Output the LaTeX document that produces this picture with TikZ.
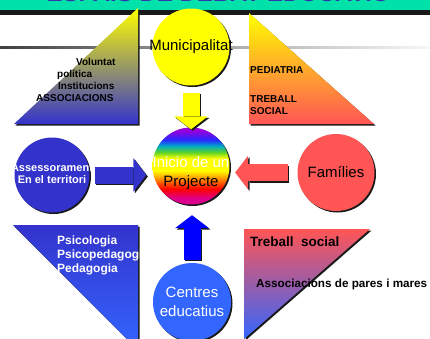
\documentclass[tikz,border=0pt]{standalone}
\usepackage{fontspec}
\setmainfont{Liberation Sans}
\usetikzlibrary{arrows.meta,shadows}
\definecolor{pjgreen}{RGB}{0,226,170}
\definecolor{pjbar}{RGB}{25,25,25}
\definecolor{pjtitle}{RGB}{51,51,170}
\definecolor{pjyellow}{RGB}{255,255,0}
\definecolor{pjblue}{RGB}{51,51,204}
\definecolor{pjred}{RGB}{255,85,85}
\definecolor{pjlightblue}{RGB}{51,102,255}
\definecolor{pjpureblue}{RGB}{0,0,255}
\definecolor{pjmag}{RGB}{220,0,140}
\definecolor{pjorange}{RGB}{255,128,0}
\definecolor{pjgreen2}{RGB}{90,210,40}
\definecolor{pjteal}{RGB}{0,170,200}
\definecolor{pjblue2}{RGB}{40,40,255}
\definecolor{pjpurple}{RGB}{150,0,220}
\pgfdeclareverticalshading{pjrainbow}{100bp}{color(0bp)=(pjmag); color(29bp)=(pjmag); color(35bp)=(red); color(41bp)=(pjorange); color(47bp)=(pjyellow); color(55bp)=(pjyellow); color(59bp)=(pjgreen2); color(63bp)=(pjteal); color(67bp)=(pjblue2); color(73bp)=(pjpurple); color(100bp)=(pjpurple)}
\tikzstyle{disc} = [circle, minimum size=77pt, inner sep=0pt, drop shadow={shadow xshift=1.5pt, shadow yshift=-1.5pt, fill=pjbar, opacity=1}]
\tikzstyle{disclabel} = [align=center, inner sep=0pt, font=\fontsize{15}{19}\selectfont]
\tikzstyle{triangle} = [drop shadow={shadow xshift=1.5pt, shadow yshift=-1.5pt, fill=pjbar, opacity=1}]
\tikzstyle{tritext} = [anchor=base west, inner sep=0pt, font=\bfseries\fontsize{10}{12}\selectfont]
\tikzstyle{blockarrow} = [line width=17pt, -{Triangle[width=34pt,length=13pt,line width=0pt]}]
\tikzstyle{arrowshadow} = [draw=pjbar, transform canvas={xshift=1.5pt,yshift=-1.5pt}]

\begin{document}
\begin{tikzpicture}[x=1pt, y=-1pt]
\useasboundingbox (0,0) rectangle (430,338);
% Title band
\fill[pjgreen] (0,0) rectangle (430,9.5);
\fill[pjbar] (0,9.5) rectangle (430,14.5);
\begin{scope}
\clip (0,0) rectangle (430,9.5);
\node (title) [anchor=base, inner sep=0pt, text=pjtitle, font=\bfseries\fontsize{24}{28}\selectfont] at (218,1.5) {ESPAIS DE DEBAT EDUCATIU};
\end{scope}
\shade[left color=black!75, right color=black!3, middle color=black!35] (0,46.5) rectangle (430,48.5);

% Triangles
\shade[triangle, top color=pjyellow, bottom color=pjblue] (138,8) -- (14,124) -- (138,124) -- cycle;
\shade[triangle, top color=pjyellow, bottom color=pjred] (249,13) -- (249,124) -- (374,124) -- cycle;
\shade[triangle, top color=pjblue, bottom color=pjlightblue] (13,225) -- (138,225) -- (138,350) -- cycle;
\shade[triangle, top color=pjred, bottom color=pjlightblue] (244,229) -- (370,229) -- (244,339) -- cycle;

\node (volu) [tritext] at (76,65.5) {Voluntat};
\node (poli) [tritext] at (57,77.5) {política};
\node (inst) [tritext] at (58,89.5) {Institucions};
\node (asso) [tritext] at (36,101.5) {ASSOCIACIONS};

\node (pedi) [tritext] at (250,73.5) {PEDIATRIA};
\node (treb) [tritext] at (250,102.5) {TREBALL};
\node (soci) [tritext] at (250,114.5) {SOCIAL};

\node (psic) [tritext, text=white, font=\bfseries\fontsize{12}{14}\selectfont] at (57,244.5) {Psicologia};
\node (psip) [tritext, text=white, font=\bfseries\fontsize{12}{14}\selectfont] at (57,258.5) {Psicopedagogia};
\node (peda) [tritext, text=white, font=\bfseries\fontsize{12}{14}\selectfont] at (57,272.5) {Pedagogia};

\node (tsoc) [tritext, font=\bfseries\fontsize{13.5}{16}\selectfont] at (250,246) {Treball\ \ social};
\node (apar) [tritext, font=\bfseries\fontsize{11.7}{14}\selectfont] at (256,287) {Associacions de pares i mares};

% Circles
\node (muni) [disc, fill=pjyellow, label={[disclabel]center:Municipalitat}] at (191,47) {};
\node (centre) [disc, shade, shading=pjrainbow, label={[disclabel, yshift=-7pt]center:{\textcolor{white}{Inicio de un}\\Projecte}}] at (191,166) {};
\node (assess) [disc, minimum size=75pt, fill=pjblue, label={[disclabel, text=white, font=\bfseries\fontsize{11}{12}\selectfont, yshift=1.5pt]center:{Assessorament\\En el territori}}] at (52,175) {};
\node (famil) [disc, fill=pjred, label={[disclabel]center:Famílies}] at (336,172.5) {};
\node (centres) [disc, minimum size=78pt, fill=pjlightblue, label={[disclabel, text=white]center:{Centres\\educatius}}] at (192,302) {};

% Arrows
\draw[blockarrow, arrowshadow, shorten <=7pt, shorten >=-2pt] (muni.south) -- (centre.north);
\draw[blockarrow, draw=pjyellow, shorten <=7pt, shorten >=-2pt] (muni.south) -- (centre.north);
\draw[blockarrow, arrowshadow, shorten <=5pt, shorten >=6pt] (assess.east) -- (assess.east -| centre.west);
\draw[blockarrow, draw=pjblue, shorten <=5pt, shorten >=6pt] (assess.east) -- (assess.east -| centre.west);
\draw[blockarrow, arrowshadow, shorten <=9.5pt, shorten >=5.5pt] (famil.west) -- (famil.west -| centre.east);
\draw[blockarrow, draw=pjred, shorten <=9.5pt, shorten >=5.5pt] (famil.west) -- (famil.west -| centre.east);
\draw[blockarrow, arrowshadow, shorten <=3pt, shorten >=10.5pt] (centres.north) -- (centres.north |- centre.south);
\draw[blockarrow, draw=pjpureblue, shorten <=3pt, shorten >=10.5pt] (centres.north) -- (centres.north |- centre.south);
\end{tikzpicture}
\end{document}
